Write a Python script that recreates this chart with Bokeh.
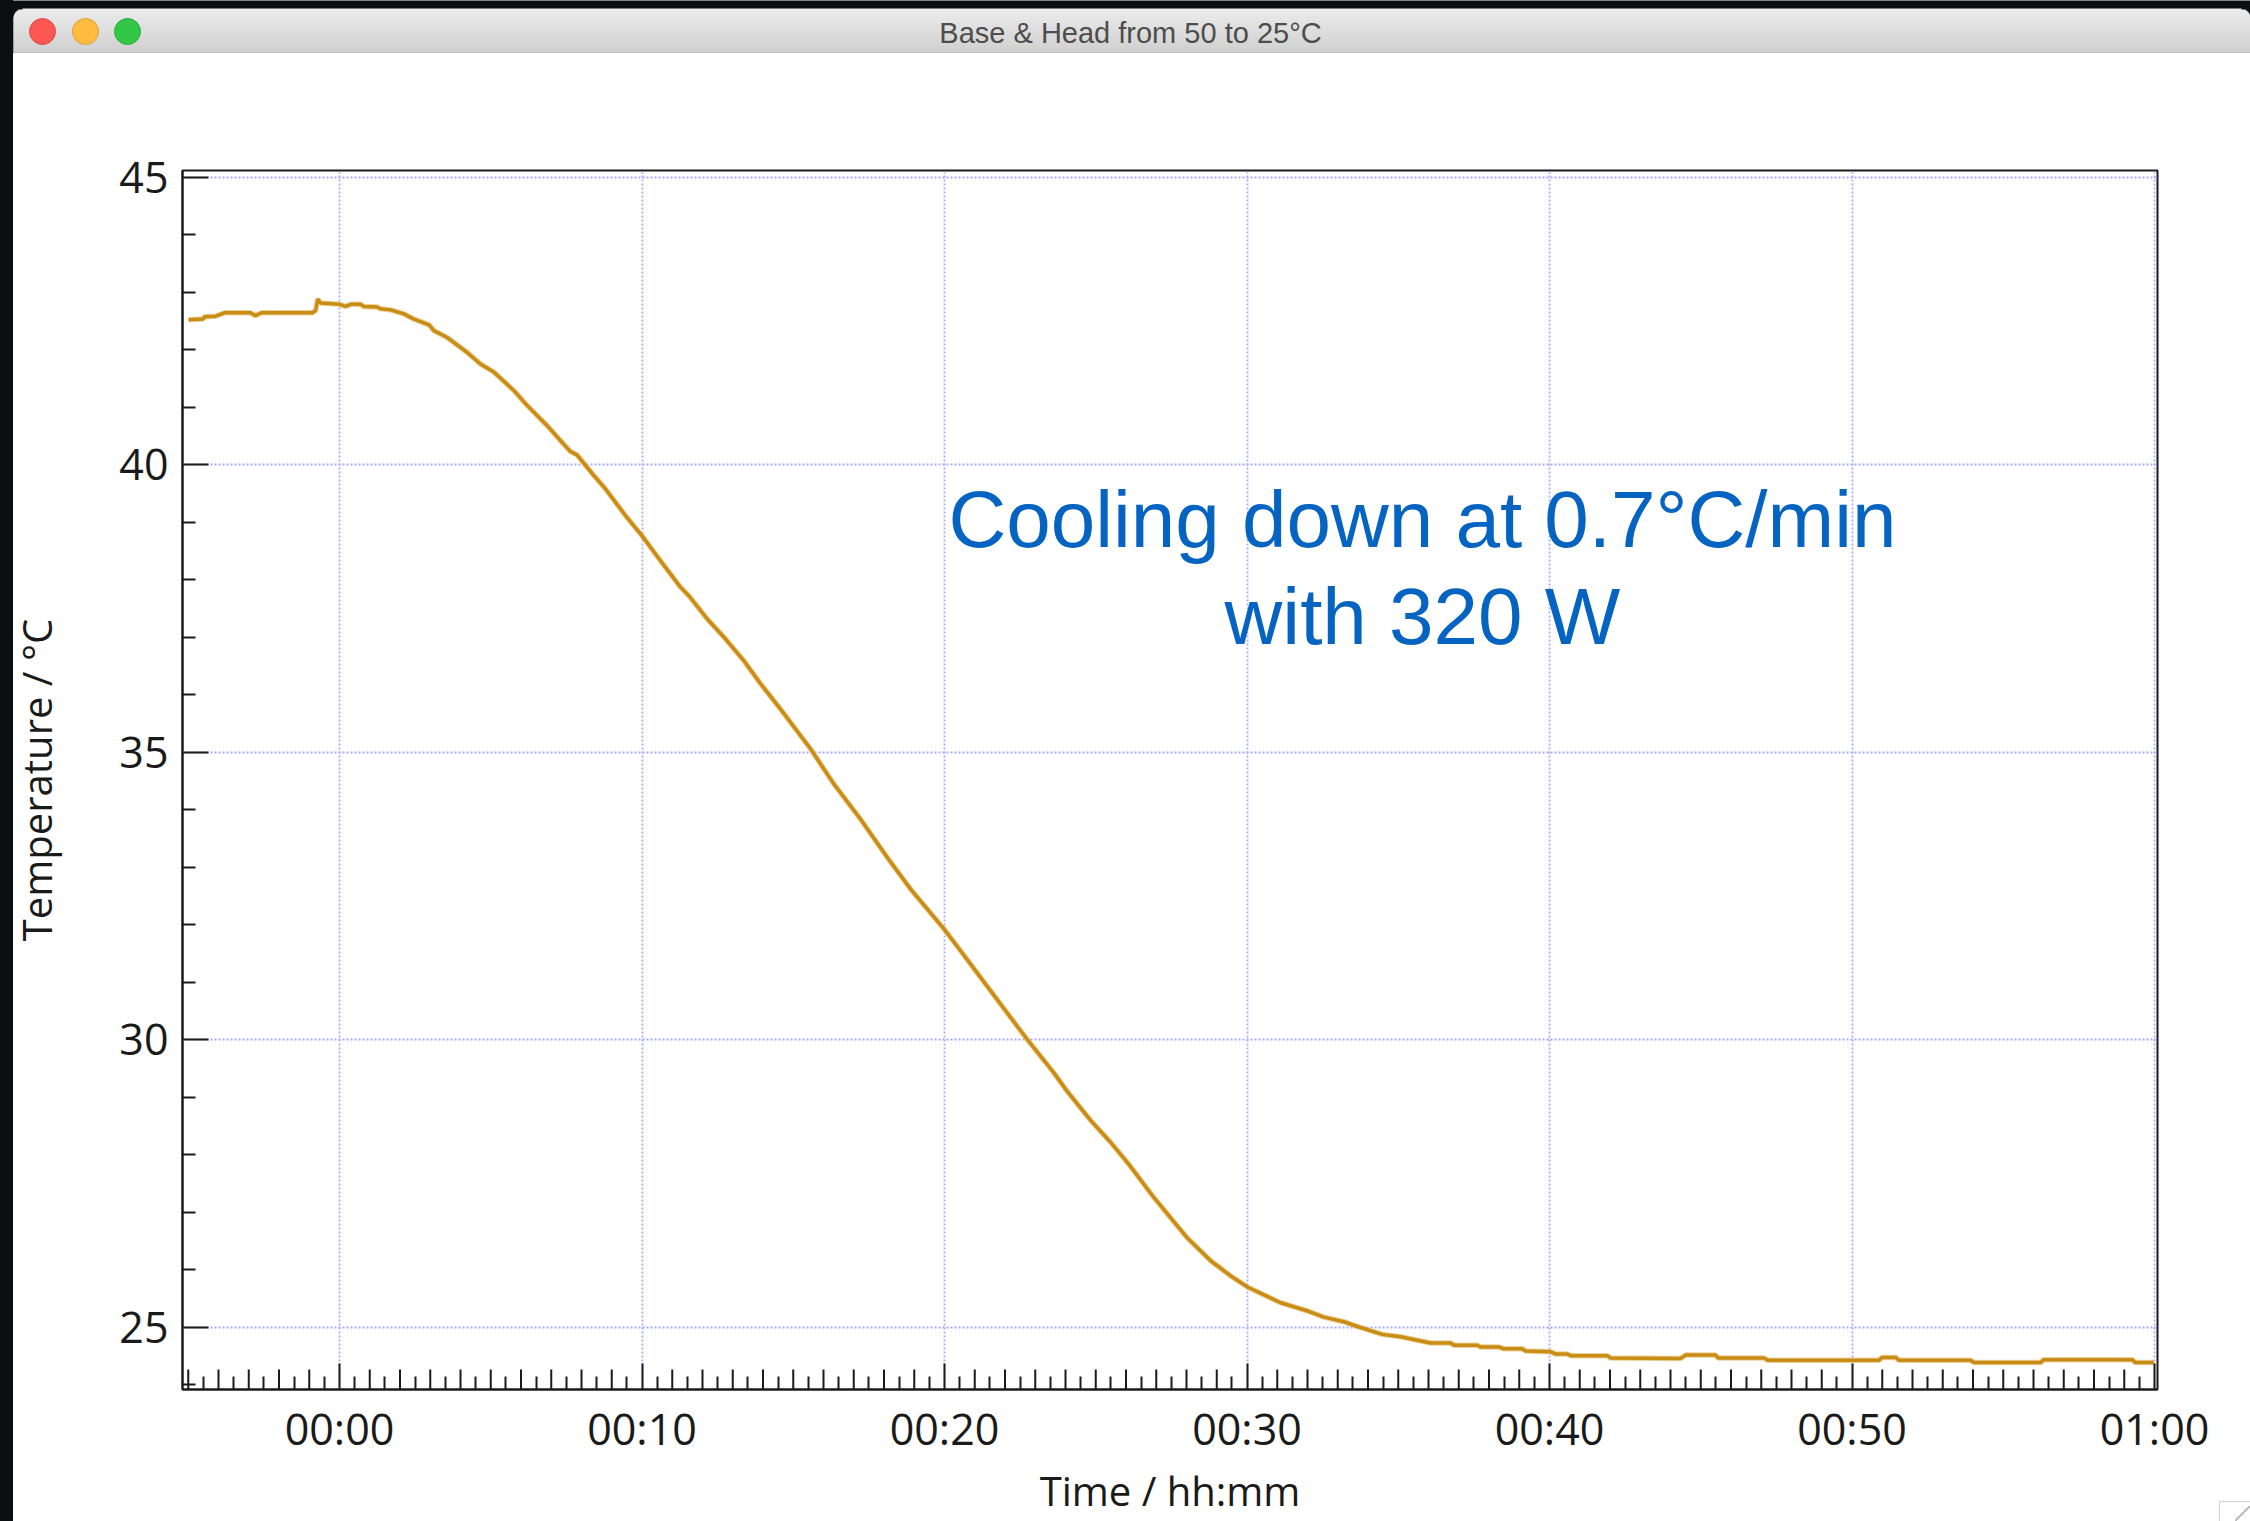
from bokeh.plotting import figure
from bokeh.layouts import column
from bokeh.models import FixedTicker, Range1d, GlobalInlineStyleSheet
from bokeh.core.properties import value
from bokeh.embed import file_html
from bokeh.resources import INLINE
import numpy as np

# ---------- data (minutes, deg C) ----------
time_min = [-4.99, -4.51, -4.46, -4.10, -3.79, -2.94, -2.78, -2.58, -0.90, -0.79, -0.72, -0.63,
            -0.02, 0.20, 0.39, 0.69, 0.80, 1.24, 1.35, 1.69, 2.13, 2.46, 2.96, 3.12, 3.56, 4.22,
            4.66, 5.10, 5.76, 6.20, 6.86, 7.30, 7.63, 7.85, 8.41, 8.79, 9.46, 9.99, 10.61, 11.27,
            11.55, 12.15, 12.71, 13.37, 13.92, 14.58, 15.57, 16.34, 17.22, 18.11, 18.88, 19.98,
            20.53, 21.03, 21.47, 22.07, 22.73, 23.61, 24.05, 24.83, 25.49, 26.09, 26.92, 27.69,
            28.02, 28.80, 29.45, 30.03, 30.67, 31.11, 31.99, 32.54, 33.20, 33.75, 34.47, 35.08,
            35.51, 36.07, 36.73, 36.84, 37.62, 37.72, 38.33, 38.49, 39.10, 39.21, 40.03, 40.20,
            40.59, 40.70, 41.91, 42.02, 44.33, 44.50, 45.49, 45.57, 47.09, 47.22, 50.89, 51.00,
            51.44, 51.55, 53.92, 54.03, 56.23, 56.34, 59.26, 59.37, 59.98]
temperature = [42.52, 42.53, 42.57, 42.58, 42.64, 42.64, 42.59, 42.64, 42.64, 42.68, 42.88, 42.81,
               42.79, 42.75, 42.79, 42.79, 42.75, 42.74, 42.71, 42.69, 42.62, 42.53, 42.43, 42.33,
               42.21, 41.95, 41.75, 41.61, 41.29, 41.03, 40.68, 40.42, 40.23, 40.17, 39.81, 39.58,
               39.11, 38.77, 38.33, 37.87, 37.72, 37.32, 37.00, 36.59, 36.19, 35.75, 35.06, 34.45,
               33.84, 33.17, 32.62, 31.93, 31.55, 31.20, 30.89, 30.47, 30.01, 29.43, 29.11, 28.60,
               28.22, 27.84, 27.26, 26.77, 26.56, 26.16, 25.90, 25.70, 25.54, 25.43, 25.29, 25.18,
               25.10, 25.00, 24.88, 24.84, 24.79, 24.73, 24.73, 24.69, 24.69, 24.66, 24.66, 24.63,
               24.63, 24.59, 24.58, 24.54, 24.54, 24.51, 24.51, 24.47, 24.46, 24.52, 24.52, 24.47,
               24.47, 24.43, 24.43, 24.48, 24.48, 24.43, 24.43, 24.39, 24.39, 24.44, 24.44, 24.39,
               24.39]
x_major = [0, 10, 20, 30, 40, 50, 60]
x_tick_labels = ["00:00", "00:10", "00:20", "00:30", "00:40", "00:50", "01:00"]
x_one_min = [m for m in range(-5, 61) if m % 10 != 0]
x_half_min = [m + 0.5 for m in range(-6, 60)]
y_major = [25, 30, 35, 40, 45]
y_minor = [v for v in range(24, 46) if v % 5 != 0]
note_lines = ["Cooling down at 0.7°C/min", "with 320 W"]
window_title = "Base & Head from 50 to 25°C"
x_title = "Time / hh:mm"
y_title = "Temperature / °C"

W, H = 2250, 1521
BAR = 53
LEFT, RIGHT, TOP, BOTTOM = 182, 2157, 170, 1389
DARK = "#0c0e11"
FONT = "Open Sans"

# ---------- window title bar ----------
bar = figure(width=W, height=BAR, x_range=Range1d(0, W), y_range=Range1d(BAR, 0),
             x_axis_type=None, y_axis_type=None, toolbar_location=None, output_backend="svg",
             min_border=0, outline_line_color=None, background_fill_color=DARK,
             border_fill_color=DARK, frame_align=False)
bar.grid.visible = False
rows = np.arange(8, BAR)
depth = (rows - 8) / 44.0
shade = (236 - 28 * depth).astype(int)
colors = ["#%02x%02x%02x" % (s, s, s) for s in shade]
colors[-1] = "#b6b6b6"
r = 9.0
inset = [r - np.sqrt(max(r * r - (r - (y - 8)) ** 2, 0)) if y - 8 < r else 0 for y in rows]
bar.quad(left=[13 + i for i in inset], right=[W - i for i in inset], top=rows, bottom=rows + 2,
         fill_color=colors, line_color=None)
bar.circle(x=[42, 85, 127], y=[31, 31, 31], radius=13,
           fill_color=["#fc5753", "#fdbc40", "#33c748"],
           line_color=["#df4744", "#de9f34", "#27aa35"], line_width=1)
bar.text(x=[1130], y=[32], text=[window_title], text_align="center", text_baseline="alphabetic",
         text_font=value("Liberation Sans"), text_font_size="29px", text_color="#4d4d4d")

# ---------- main chart ----------
PX_MIN = 30.25
PX_DEG = 57.5
x0 = -(339 - LEFT) / PX_MIN
x1 = (RIGHT - 339) / PX_MIN
y1 = 45 + (176.5 - TOP) / PX_DEG
y0 = 25 - (BOTTOM - 1327) / PX_DEG

p = figure(width=W, height=H - BAR, x_range=Range1d(x0, x1), y_range=Range1d(y0, y1),
           toolbar_location=None, output_backend="svg", frame_align=False,
           min_border_left=LEFT, min_border_right=W - RIGHT,
           min_border_top=TOP - BAR, min_border_bottom=H - BOTTOM,
           background_fill_color="white", border_fill_color=None,
           outline_line_color="#1a1a1a", outline_line_width=2,
           x_axis_label=x_title, y_axis_label=y_title)

xticker = FixedTicker(ticks=x_major, minor_ticks=x_half_min)
yticker = FixedTicker(ticks=y_major, minor_ticks=y_minor)
p.xaxis.ticker = xticker
p.yaxis.ticker = yticker
p.xaxis.major_label_overrides = dict(zip(x_major, x_tick_labels))
for ax in (p.xaxis[0], p.yaxis[0]):
    ax.axis_line_color = "#1a1a1a"
    ax.axis_line_width = 2
    ax.major_tick_line_color = "#1a1a1a"
    ax.major_tick_line_width = 2
    ax.minor_tick_line_color = "#1a1a1a"
    ax.minor_tick_line_width = 2
    ax.major_tick_out = 0
    ax.minor_tick_out = 0
    ax.major_label_text_font = FONT
    ax.major_label_text_font_size = "43px"
    ax.major_label_text_color = "#1a1a1a"
    ax.axis_label_text_font = FONT
    ax.axis_label_text_font_style = "normal"
    ax.axis_label_text_font_size = "40px"
    ax.axis_label_text_color = "#1a1a1a"
p.xaxis.major_tick_in = 26
p.xaxis.minor_tick_in = 13
p.yaxis.major_tick_in = 26
p.yaxis.minor_tick_in = 13
p.xaxis.major_label_standoff = 9
p.yaxis.major_label_standoff = 14
p.xaxis.axis_label_standoff = 2
p.yaxis.axis_label_standoff = 52

for g, t in ((p.xgrid[0], xticker), (p.ygrid[0], yticker)):
    g.ticker = t
    g.grid_line_color = "#a9a9ff"
    g.grid_line_width = 1.8
    g.grid_line_dash = "2 2"

# whole-minute ticks, taller than the half-minute ones
p.segment(x0=x_one_min, x1=x_one_min, y0=[y0] * len(x_one_min),
          y1=[y0 + 20 / PX_DEG] * len(x_one_min), line_color="#1a1a1a", line_width=2)

p.line(time_min, temperature, line_color="#e4bf74", line_width=5.5, line_alpha=0.7)
p.line(time_min, temperature, line_color="#c98c14", line_width=3.5)

p.text(x=[35.8, 35.8], y=[39.04, 37.36], text=note_lines, text_align="center",
       text_baseline="alphabetic", text_font=value("Liberation Sans"), text_font_size="80px",
       text_color="#0563c1")

# page backdrop: dark desktop strip on the left, resize handle at the lower right
css = ("html,body{margin:0;padding:0;overflow:hidden;height:100%}"
       "html{background:"
       "linear-gradient(135deg,transparent 46%,#bdbdbd 46%,#bdbdbd 54%,transparent 54%) 2235px 1506px/15px 15px no-repeat,"
       "linear-gradient(#d4d4d4,#d4d4d4) 2219px 1501px/31px 1px no-repeat,"
       "linear-gradient(#d4d4d4,#d4d4d4) 2219px 1501px/1px 20px no-repeat,"
       f"linear-gradient(to right,{DARK} 13px,#fff 13px)}}"
       "body{background:transparent}")
page = column(bar, p, spacing=0, stylesheets=[GlobalInlineStyleSheet(css=css)])

open("out.html", "w").write(file_html(page, INLINE))
